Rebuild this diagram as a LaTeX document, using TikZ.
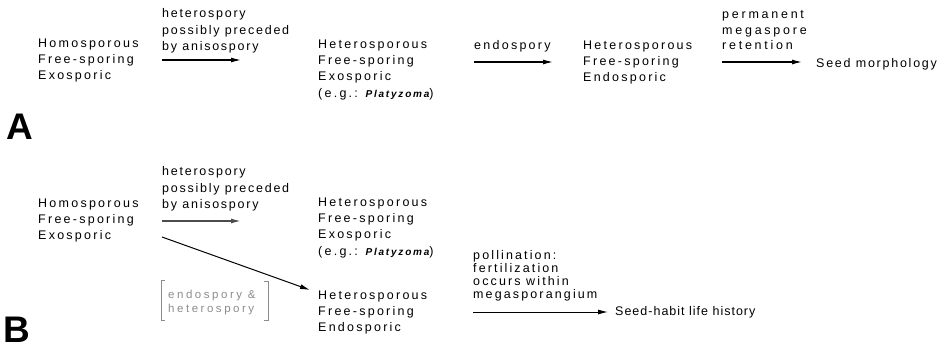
\documentclass[tikz,border=0pt]{standalone}
\usepackage{fontspec}
\setmainfont{Liberation Sans}
\newfontfamily\fontLSviii[LetterSpace=8]{Liberation Sans}
\newfontfamily\fontLSxiv[LetterSpace=14]{Liberation Sans}
\newfontfamily\fontLSxvii[LetterSpace=17]{Liberation Sans}
\newfontfamily\fontLSxviii[LetterSpace=18]{Liberation Sans}
\newfontfamily\fontLSxxii[LetterSpace=22]{Liberation Sans}
\newcommand\genusname[1]{{\fontsize{10}{12}\selectfont\bfseries\itshape #1}}
\usetikzlibrary{arrows.meta}
\begin{document}
\begin{tikzpicture}[x=1pt,y=-1pt,
  txt/.style={inner sep=0pt,align=left,anchor=north west,font=\fontLSxviii\fontsize{12.5}{16.3}\selectfont},
  lab/.style={txt,font=\fontLSxiv\fontsize{12.5}{16.3}\selectfont},
  widelab/.style={txt,font=\fontLSxxii\fontsize{12.5}{15.5}\selectfont},
  tight/.style={txt,font=\fontLSxvii\fontsize{12.5}{12.8}\selectfont},
  brk/.style={txt,text=black!45,font=\fontLSxxii\fontsize{11.5}{14}\selectfont},
  big/.style={inner sep=0pt,font=\bfseries\fontsize{37}{37}\selectfont},
  arr/.style={line width=1.2pt,-{Latex[length=10pt,width=5pt]}}]
\useasboundingbox (0,0) rectangle (945,348);
% ---------- Panel A ----------
\node[txt] (a1) at (38,38.5) {Homosporous\\Free-sporing\\Exosporic};
\node[lab] (la1) at (162,8.5) {heterospory\\possibly preceded\\by anisospory};
\node[txt] (a2) at (318,39.5) {Heterosporous\\Free-sporing\\Exosporic\\(e.g.: \genusname{Platyzoma})};
\node[txt] (la2) at (474,40.5) {endospory};
\node[txt] (a3) at (583,40.5) {Heterosporous\\Free-sporing\\Endosporic};
\node[widelab] (la3) at (722,10.5) {permanent\\megaspore\\retention};
\node[lab,anchor=west] (a4) at (816,64) {Seed morphology};
\node[big] (A) at (19.5,127) {A};
\coordinate (a1s) at (162,60); \coordinate (a1e) at (241,60);
\coordinate (a2s) at (474,62); \coordinate (a2e) at (553,62);
\coordinate (a3s) at (722,62); \coordinate (a3e) at (802,62);
\draw[arr] (a1s) -- (a1e);
\draw[arr] (a2s) -- (a2e);
\draw[arr] (a3s) -- (a3e);
% ---------- Panel B ----------
\node[txt] (b1) at (38,198.5) {Homosporous\\Free-sporing\\Exosporic};
\node[lab] (lb1) at (162,166.5) {heterospory\\possibly preceded\\by anisospory};
\node[txt] (b2) at (318,197.5) {Heterosporous\\Free-sporing\\Exosporic\\(e.g.: \genusname{Platyzoma})};
\node[txt] (b3) at (318,290.5) {Heterosporous\\Free-sporing\\Endosporic};
\node[brk] (lb3) at (168,289.5) {endospory \&\\heterospory};
\node[tight] (lb2) at (473,250.5) {pollination:\\fertilization\\occurs within\\megasporangium};
\node[txt,anchor=west,font=\fontLSviii\fontsize{12.5}{15}\selectfont] (b4) at (615,312) {Seed-habit life history};
\node[big] (B) at (17,329.5) {B};
\coordinate (b1s) at (162,221); \coordinate (b1e) at (241,221);
\coordinate (bds) at (162,237); \coordinate (bde) at (310,290);
\coordinate (b2s) at (473,312); \coordinate (b2e) at (608,312);
\draw[arr,black!70,line width=1.5pt] (b1s) -- (b1e);
\draw[arr,line width=1pt] (bds) -- (bde);
\draw[arr,line width=1pt] (b2s) -- (b2e);
% bracket
\coordinate (bl1) at (161,280); \coordinate (bl2) at (161,320);
\coordinate (br1) at (268,281); \coordinate (br2) at (268,320);
\draw[black!45,line width=0.9pt] ([xshift=4pt]bl1) -- (bl1) -- (bl2) -- ([xshift=4pt]bl2);
\draw[black!45,line width=0.9pt] ([xshift=-4pt]br1) -- (br1) -- (br2) -- ([xshift=-4pt]br2);
\end{tikzpicture}
\end{document}
